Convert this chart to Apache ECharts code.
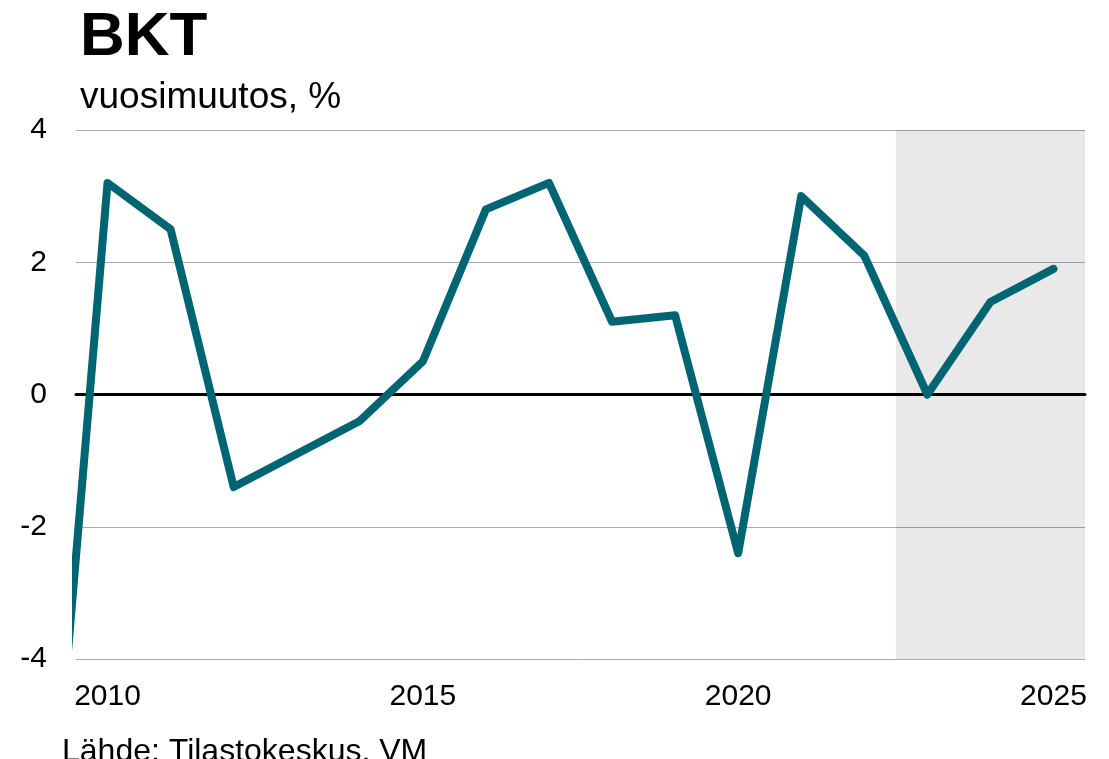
<!DOCTYPE html>
<html>
<head>
<meta charset="utf-8">
<script src="https://cdn.jsdelivr.net/npm/echarts@6/dist/echarts.min.js"></script>
<style>html,body{margin:0;padding:0;background:#fff}#c{width:1109px;height:759px}</style>
</head>
<body>
<div id="c"></div>
<script>
const years = [2009,2010,2011,2012,2013,2014,2015,2016,2017,2018,2019,2020,2021,2022,2023,2024,2025];
const gdpChange = [-8.1,3.2,2.5,-1.4,-0.9,-0.4,0.5,2.8,3.2,1.1,1.2,-2.4,3.0,2.1,0.0,1.4,1.9];
const xTickLabels = [2010,2015,2020,2025];
const forecastStart = 2022.5;
const forecastEnd = 2025.5;

const chart = echarts.init(document.getElementById('c'));
const FONT = '"Liberation Sans", Arial, sans-serif';
chart.setOption({
  animation: false,
  backgroundColor: '#ffffff',
  grid: {left: 76, right: 24, top: 130, bottom: 100, containLabel: false},
  graphic: [
    {type: 'text', left: 80, top: 7, style: {text: 'BKT', font: 'bold 62px ' + FONT, fill: '#000'}},
    {type: 'text', left: 80, top: 79, style: {text: 'vuosimuutos, %', font: '37px ' + FONT, fill: '#000'}},
    {type: 'text', left: 62, top: 736, style: {text: 'Lähde: Tilastokeskus, VM', font: '32px ' + FONT, fill: '#000'}}
  ],
  xAxis: {
    type: 'value', min: 2009.5, max: 2025.5,
    axisLine: {show: true, onZero: true, lineStyle: {color: '#000', width: 3}},
    axisTick: {show: false},
    splitLine: {show: false},
    axisLabel: {customValues: xTickLabels, fontFamily: FONT, fontSize: 30, color: '#000', margin: 23,
      formatter: v => String(v)}
  },
  yAxis: {
    type: 'value', min: -4, max: 4, interval: 2,
    axisLine: {show: false}, axisTick: {show: false},
    splitLine: {lineStyle: {color: '#aaaaaa', width: 1}},
    axisLabel: {fontFamily: FONT, fontSize: 30, color: '#000', margin: 29}
  },
  series: [{
    type: 'line',
    data: years.map((y, i) => [y, gdpChange[i]]),
    showSymbol: false,
    clip: true,
    lineStyle: {color: '#006572', width: 8, join: 'round', cap: 'round'},
    itemStyle: {color: '#006572'},
    markArea: {
      silent: true,
      itemStyle: {color: 'rgba(0,0,0,0.085)'},
      data: [[{xAxis: forecastStart}, {xAxis: forecastEnd}]]
    }
  }]
});
</script>
</body>
</html>
